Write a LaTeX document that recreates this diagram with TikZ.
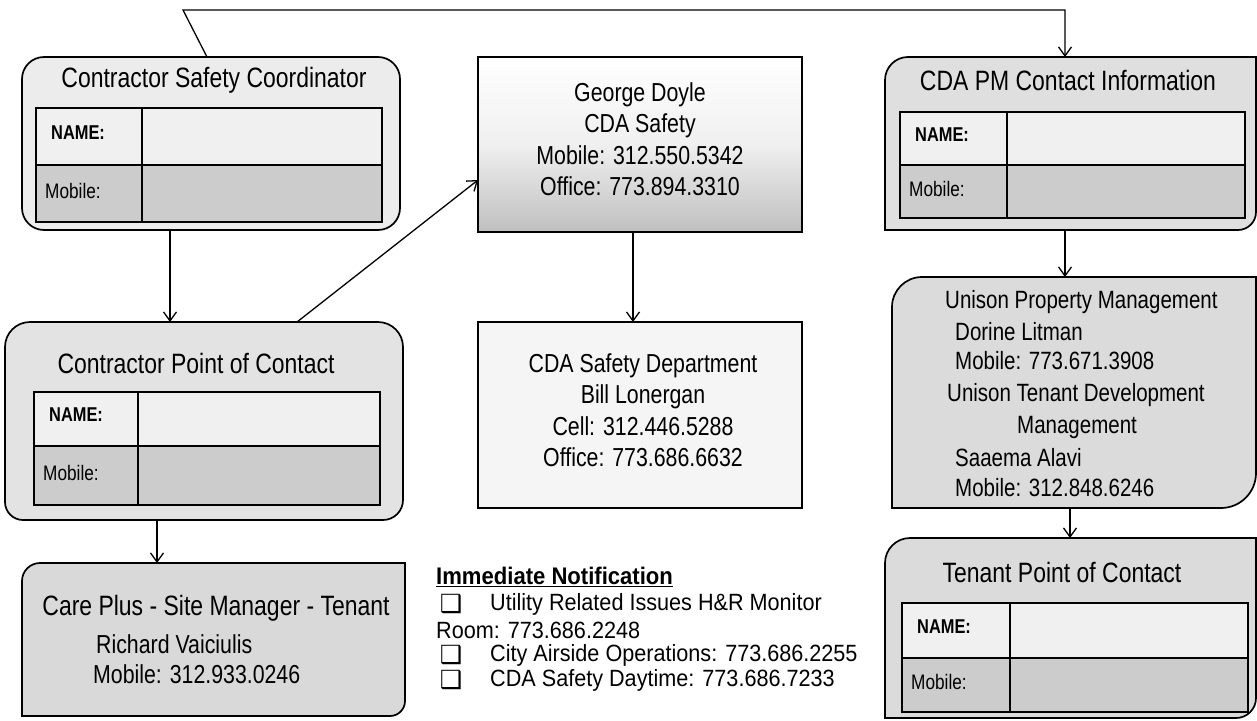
\documentclass[tikz,border=0pt]{standalone}
\usepackage{fontspec}
\setmainfont[FakeStretch=0.82]{Liberation Sans}
\newfontfamily\notefont[FakeStretch=0.92]{Liberation Sans}
\newfontfamily\symfont{DejaVu Sans}
\usetikzlibrary{arrows.meta,calc}
% box outline with individual corner radii: style, x0,y0,x1,y1, rTL,rTR,rBR,rBL
\newcommand\ccbox[9]{\path[#1] (#2,#3+#6) .. controls (#2,#3+0.448*#6) and (#2+0.448*#6,#3) .. (#2+#6,#3)
 -- (#4-#7,#3) .. controls (#4-0.448*#7,#3) and (#4,#3+0.448*#7) .. (#4,#3+#7)
 -- (#4,#5-#8) .. controls (#4,#5-0.448*#8) and (#4-0.448*#8,#5) .. (#4-#8,#5)
 -- (#2+#9,#5) .. controls (#2+0.448*#9,#5) and (#2,#5-0.448*#9) .. (#2,#5-#9) -- cycle;}
% table: prefix, x0,y0,x1,y1, ymid, xdiv
\newcommand\ctable[7]{%
 \fill[namerow] (#2,#3) rectangle (#4,#6);
 \fill[mobrow] (#2,#6) rectangle (#4,#5);
 \draw[gridline] (#2,#3) rectangle (#4,#5) (#2,#6) -- (#4,#6) (#7,#3) -- (#7,#5);
 \node[lbl] (#1-name) at (#2+15,{(#3+#6)/2-4}) {NAME:};
 \node[mlbl] (#1-mob) at (#2+9,{(#6+#5)/2-3}) {Mobile:};}
\tikzset{
 boxline/.style={draw=black, line width=1.7pt},
 conn/.style={draw=black, line width=1.3pt},
 arr/.style={conn, -{Straight Barb[length=9pt,width=13pt,line width=1.3pt]}},
 region/.style={inner sep=0pt, outer sep=0pt, anchor=north west},
 big/.style={font=\fontsize{26}{31.5}\selectfont, inner sep=0pt},
 ttl/.style={font=\fontsize{28}{32}\selectfont, inner sep=0pt},
 mid/.style={font=\fontsize{25}{30}\selectfont, inner sep=0pt, anchor=west},
 lbl/.style={font=\bfseries\fontsize{20}{22}\selectfont, anchor=west, inner sep=0pt},
 mlbl/.style={font=\fontsize{21}{22}\selectfont, anchor=west, inner sep=0pt},
 gridline/.style={draw=black, line width=2.6pt},
 namerow/.style={fill=gray!12},
 mobrow/.style={fill=gray!40},
 note/.style={font=\notefont\fontsize{23.5}{26}\selectfont, anchor=west, inner sep=0pt},
 chk/.style={font=\symfont\fontsize{25}{26}\selectfont, inner sep=0pt},
}
\begin{document}
\begin{tikzpicture}[x=1pt,y=-1pt]
\useasboundingbox[fill=white] (0,0) rectangle (1257,720);

% ---------- Contractor Safety Coordinator
\ccbox{boxline, fill=gray!15}{22}{57}{400}{230}{22}{22}{22}{22}
\node[region, minimum width=378pt, minimum height=173pt] (csc) at (22,57) {};
\node[ttl] (csc-t) at (214,80) {Contractor Safety Coordinator};
\ctable{csc}{36}{108}{382}{222}{165}{142}

% ---------- Contractor Point of Contact
\ccbox{boxline, fill=gray!22}{5}{322}{403}{520}{25}{25}{20}{18}
\node[region, minimum width=398pt, minimum height=198pt] (cpc) at (5,322) {};
\node[ttl] (cpc-t) at (196,363) {Contractor Point of Contact};
\ctable{cpc}{34}{392}{380}{505}{446}{138}

% ---------- Care Plus
\ccbox{boxline, fill=gray!30}{22}{563}{405}{716}{18}{0}{15}{0}
\node[region, minimum width=383pt, minimum height=153pt] (care) at (22,563) {};
\node[ttl] (care-1) at (216,608) {Care Plus - Site Manager - Tenant};
\node[big, anchor=west] (care-2) at (96,644) {Richard Vaiciulis};
\node[big, anchor=west] (care-3) at (93,674) {Mobile: 312.933.0246};

% ---------- George Doyle
\ccbox{boxline, top color=white, bottom color=gray!50, middle color=gray!12}{478}{57}{802}{232}{0}{0}{0}{0}
\node[region, minimum width=324pt, minimum height=175pt] (gd) at (478,57) {};
\node[big, align=center] (gd-t) at (640,139) {George Doyle\\CDA Safety\\Mobile: 312.550.5342\\Office: 773.894.3310};

% ---------- CDA Safety Department
\ccbox{boxline, fill=gray!8}{478}{322}{802}{508}{0}{0}{0}{0}
\node[region, minimum width=324pt, minimum height=186pt] (dept) at (478,322) {};
\node[big, align=center] (dept-t) at (643,410) {CDA Safety Department\\Bill Lonergan\\Cell: 312.446.5288\\Office: 773.686.6632};

% ---------- CDA PM Contact Information
\ccbox{boxline, fill=gray!25}{885}{57}{1256}{230}{23}{0}{18}{0}
\node[region, minimum width=371pt, minimum height=173pt] (pm) at (885,57) {};
\node[ttl] (pm-t) at (1068,80) {CDA PM Contact Information};
\ctable{pm}{900}{112}{1245}{218}{165}{1007}

% ---------- Unison
\ccbox{boxline, fill=gray!28}{892}{277}{1256}{508}{30}{0}{35}{0}
\node[region, minimum width=364pt, minimum height=231pt] (uni) at (892,277) {};
\node[mid] (u1) at (945,302) {Unison Property Management};
\node[mid] (u2) at (955,332) {Dorine Litman};
\node[mid] (u3) at (955,361) {Mobile: 773.671.3908};
\node[mid] (u4) at (947,395) {Unison Tenant Development};
\node[mid] (u5) at (1017,427) {Management};
\node[mid] (u6) at (955,458) {Saaema Alavi};
\node[mid] (u7) at (955,488) {Mobile: 312.848.6246};

% ---------- Tenant Point of Contact
\ccbox{boxline, fill=gray!28}{885}{538}{1256}{718}{25}{0}{20}{0}
\node[region, minimum width=371pt, minimum height=180pt] (ten) at (885,538) {};
\node[ttl] (ten-t) at (1062,572) {Tenant Point of Contact};
\ctable{ten}{902}{603}{1248}{712}{658}{1010}

% ---------- Immediate Notification
\node[note, font=\notefont\bfseries\fontsize{24}{26}\selectfont] (imm) at (436,577) {\underline{Immediate Notification}};
\node[chk] (b1) at (451,604) {❑};
\node[note] (n1) at (490,604) {Utility Related Issues H\&R Monitor};
\node[note] (n2) at (436,630) {Room: 773.686.2248};
\node[chk] (b2) at (451,655) {❑};
\node[note] (n3) at (490,655) {City Airside Operations: 773.686.2255};
\node[chk] (b3) at (451,680) {❑};
\node[note] (n4) at (490,680) {CDA Safety Daytime: 773.686.7233};

% ---------- connectors
\coordinate (tl) at (183,10);
\coordinate (tr) at (1065,10);
\coordinate (xa) at (170,0);
\coordinate (xb) at (157,0);
\coordinate (xc) at (633,0);
\coordinate (xd) at (1065,0);
\coordinate (xe) at (1070,0);
\draw[arr] ($(csc.north west)+(185,0)$) -- (tl) -- (tr) -- (tr |- pm.north);
\draw[arr] (csc.south -| xa) -- (cpc.north -| xa);
\draw[arr] (cpc.south -| xb) -- (care.north -| xb);
\draw[arr] ($(cpc.north west)+(292,0)$) -- ($(gd.north west)+(0,123)$);
\draw[arr] (gd.south -| xc) -- (dept.north -| xc);
\draw[arr] (pm.south -| xd) -- (uni.north -| xd);
\draw[arr] (uni.south -| xe) -- (ten.north -| xe);
\end{tikzpicture}
\end{document}
